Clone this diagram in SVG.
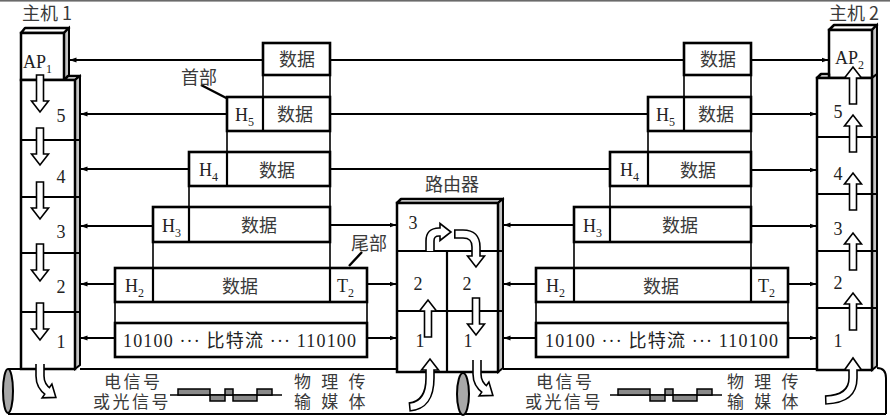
<svg xmlns="http://www.w3.org/2000/svg" width="890" height="416" viewBox="0 0 890 416">
<style>
.bx{fill:#fff;stroke:#000;stroke-width:2.5}
.bev{fill:#fff;stroke:#000;stroke-width:2.5;stroke-linejoin:round}
.side{fill:#c4c4c4;stroke:#000;stroke-width:2}
.pk{fill:#fff;stroke:#000;stroke-width:2.6}
.dv{stroke:#000;stroke-width:2.2}
.ln{stroke:#000;stroke-width:2;fill:none}
.vl{stroke:#000;stroke-width:1.6;fill:none}
.t{font-family:"Liberation Serif","Noto Sans CJK SC",serif;font-size:18px;fill:#222}
.c{font-family:"Noto Sans CJK SC",sans-serif;font-size:18px;fill:#3a3a3a}
.b{font-family:"Liberation Serif","Noto Sans CJK SC",serif;font-size:17px;fill:#3a3a3a;letter-spacing:2.5px}
.b2{font-family:"Liberation Serif","Noto Sans CJK SC",serif;font-size:17px;fill:#3a3a3a;word-spacing:6px}
.m{text-anchor:middle}
.s{font-size:12px}
.ar{fill:#fff;stroke:#000;stroke-width:1.6;stroke-linejoin:miter}
.cb{fill:none;stroke:#000;stroke-width:9.6}
.cw{fill:none;stroke:#fff;stroke-width:6.4}
.wave{fill:#8a8a8a;stroke:#000;stroke-width:1.5}
</style>
<defs>
<marker id="ah" viewBox="0 0 7 6" refX="6.5" refY="3" markerWidth="7" markerHeight="6" markerUnits="userSpaceOnUse" orient="auto"><path d="M0,0.5 L7,3 L0,5.5 z" fill="#000"/></marker>
<marker id="lh" viewBox="0 0 10 8" refX="9" refY="4" markerWidth="10" markerHeight="8" markerUnits="userSpaceOnUse" orient="auto"><path d="M0,0.5 L10,4 L0,7.5 z" fill="#000"/></marker>
<path id="dn" d="M-3.5,0 H3.5 V26 H8.5 L0,37 L-8.5,26 H-3.5 Z"/>
<path id="up" d="M-3.5,0 H3.5 V-26 H8.5 L0,-37 L-8.5,-26 H-3.5 Z"/>
</defs>
<rect x="0" y="0" width="890" height="1.6" fill="#6a6a6a"/>

<!-- cable / physical medium -->
<g id="medium">
<line x1="8" y1="369" x2="21" y2="369" class="ln" stroke-width="2.4"/>
<line x1="80" y1="369" x2="397" y2="369" class="ln" stroke-width="2.4"/>
<line x1="503" y1="369" x2="817" y2="369" class="ln" stroke-width="2.4"/>
<path d="M877,368 Q886,368 886,378 V414" class="ln" stroke-width="2.4"/>
<line x1="8" y1="414" x2="886" y2="414" class="ln" stroke-width="2.4"/>
<ellipse cx="8" cy="391" rx="5" ry="22" fill="#a8a8a8" stroke="#000" stroke-width="2"/>
<ellipse cx="463" cy="394" rx="6" ry="21" fill="#a8a8a8" stroke="#000" stroke-width="2"/>
<g id="wave1">
<line x1="170" y1="395" x2="282" y2="395" stroke="#000" stroke-width="1.5"/>
<rect x="178" y="389" width="32" height="6" class="wave"/>
<rect x="210" y="395" width="15" height="6" class="wave"/>
<rect x="225" y="389" width="8" height="6" class="wave"/>
<rect x="233" y="395" width="24" height="6" class="wave"/>
<rect x="257" y="389" width="15" height="6" class="wave"/>
</g>
<use href="#wave1" x="440"/>
<text x="104" y="388" class="b">电信号</text>
<text x="93" y="408" class="b">或光信号</text>
<text x="294" y="388" class="b2">物 理 传</text>
<text x="294" y="408" class="b2">输 媒 体</text>
<text x="536" y="388" class="b">电信号</text>
<text x="525" y="408" class="b">或光信号</text>
<text x="727" y="388" class="b2">物 理 传</text>
<text x="727" y="408" class="b2">输 媒 体</text>
</g>

<!-- connectors -->
<g id="connectors">
<path d="M263,60 H70" class="ln" marker-end="url(#ah)"/>
<path d="M330,60 H684" class="ln"/>
<path d="M751,60 H828" class="ln" marker-end="url(#ah)"/>
<path d="M227,114 H81" class="ln" marker-end="url(#ah)"/>
<path d="M330,114 H648" class="ln"/>
<path d="M751,114 H816" class="ln" marker-end="url(#ah)"/>
<path d="M189,169 H81" class="ln" marker-end="url(#ah)"/>
<path d="M330,169 H610" class="ln"/>
<path d="M751,170 H816" class="ln" marker-end="url(#ah)"/>
<path d="M153,226 H81" class="ln" marker-end="url(#ah)"/>
<path d="M330,225 H396" class="ln" marker-end="url(#ah)"/>
<path d="M574,225 H504" class="ln" marker-end="url(#ah)"/>
<path d="M751,226 H816" class="ln" marker-end="url(#ah)"/>
<path d="M115,284 H81" class="ln" marker-end="url(#ah)"/>
<path d="M367,284 H396" class="ln" marker-end="url(#ah)"/>
<path d="M537,284 H504" class="ln" marker-end="url(#ah)"/>
<path d="M787,284 H816" class="ln" marker-end="url(#ah)"/>
<path d="M115,338 H81" class="ln" marker-end="url(#ah)"/>
<path d="M367,338 H396" class="ln" marker-end="url(#ah)"/>
<path d="M537,338 H504" class="ln" marker-end="url(#ah)"/>
<path d="M787,338 H816" class="ln" marker-end="url(#ah)"/>
<!-- packet frame links -->
<path d="M263,75 V97 M330,75 V97 M227,131 V152 M330,131 V152 M189,186 V207 M330,186 V207 M153,242 V268 M330,242 V268 M115,302 V323 M367,302 V323" class="vl"/>
<path d="M684,75 V97 M751,75 V97 M648,131 V152 M751,131 V152 M610,186 V207 M751,186 V207 M574,242 V268 M751,242 V268 M536,302 V323 M788,302 V323" class="vl"/>
<!-- leaders -->
<path d="M201,85 L236,103" stroke="#000" stroke-width="2.4" marker-end="url(#lh)"/>
<path d="M362,252 L349,266" stroke="#000" stroke-width="2.4"/>
</g>

<!-- left packets -->
<g id="pkt-ap-l">
<rect x="263" y="43" width="67" height="32" class="pk"/>
<text x="297" y="66" class="c m">数据</text>
</g>
<g id="pkt-5-l">
<rect x="227" y="97" width="103" height="34" class="pk"/>
<line x1="263" y1="97" x2="263" y2="131" class="dv"/>
<text x="235" y="121" class="t">H<tspan class="s" dy="5">5</tspan></text>
<text x="295" y="121" class="c m">数据</text>
</g>
<g id="pkt-4-l">
<rect x="189" y="152" width="141" height="34" class="pk"/>
<line x1="227" y1="152" x2="227" y2="186" class="dv"/>
<text x="199" y="176" class="t">H<tspan class="s" dy="5">4</tspan></text>
<text x="277" y="177" class="c m">数据</text>
</g>
<g id="pkt-3-l">
<rect x="153" y="207" width="177" height="35" class="pk"/>
<line x1="189" y1="207" x2="189" y2="242" class="dv"/>
<text x="162" y="232" class="t">H<tspan class="s" dy="5">3</tspan></text>
<text x="259" y="232" class="c m">数据</text>
</g>
<g id="pkt-2-l">
<rect x="115" y="268" width="252" height="34" class="pk"/>
<line x1="153" y1="268" x2="153" y2="302" class="dv"/>
<line x1="330" y1="268" x2="330" y2="302" class="dv"/>
<text x="125" y="292" class="t">H<tspan class="s" dy="5">2</tspan></text>
<text x="240" y="293" class="c m">数据</text>
<text x="337" y="292" class="t">T<tspan class="s" dy="5">2</tspan></text>
</g>
<g id="pkt-1-l">
<rect x="115" y="323" width="252" height="34" class="pk"/>
<text x="123" y="347" class="t" textLength="233" lengthAdjust="spacing">10100 ··· 比特流 ··· 110100</text>
</g>
<g id="label-head"><text x="199" y="84" class="c m">首部</text></g>
<g id="label-tail"><text x="369" y="250" class="c m">尾部</text></g>

<!-- right packets -->
<g id="pkt-ap-r">
<rect x="684" y="43" width="67" height="32" class="pk"/>
<text x="718" y="66" class="c m">数据</text>
</g>
<g id="pkt-5-r">
<rect x="648" y="97" width="103" height="34" class="pk"/>
<line x1="684" y1="97" x2="684" y2="131" class="dv"/>
<text x="656" y="121" class="t">H<tspan class="s" dy="5">5</tspan></text>
<text x="716" y="121" class="c m">数据</text>
</g>
<g id="pkt-4-r">
<rect x="610" y="152" width="141" height="34" class="pk"/>
<line x1="648" y1="152" x2="648" y2="186" class="dv"/>
<text x="620" y="176" class="t">H<tspan class="s" dy="5">4</tspan></text>
<text x="698" y="177" class="c m">数据</text>
</g>
<g id="pkt-3-r">
<rect x="574" y="207" width="177" height="35" class="pk"/>
<line x1="610" y1="207" x2="610" y2="242" class="dv"/>
<text x="583" y="232" class="t">H<tspan class="s" dy="5">3</tspan></text>
<text x="680" y="232" class="c m">数据</text>
</g>
<g id="pkt-2-r">
<rect x="536" y="268" width="252" height="34" class="pk"/>
<line x1="574" y1="268" x2="574" y2="302" class="dv"/>
<line x1="751" y1="268" x2="751" y2="302" class="dv"/>
<text x="546" y="292" class="t">H<tspan class="s" dy="5">2</tspan></text>
<text x="661" y="293" class="c m">数据</text>
<text x="758" y="292" class="t">T<tspan class="s" dy="5">2</tspan></text>
</g>
<g id="pkt-1-r">
<rect x="536" y="323" width="252" height="34" class="pk"/>
<text x="545" y="347" class="t" textLength="233" lengthAdjust="spacing">10100 ··· 比特流 ··· 110100</text>
</g>

<!-- host 1 -->
<g id="host1">
<text x="22" y="20" class="c" font-size="17">主机 1</text>
<polygon points="21,33 25,28 69,28 64,33" class="bev"/>
<polygon points="64,33 69,28 69,77 64,80" class="side"/>
<rect x="21" y="33" width="43" height="47" class="bx"/>
<text x="23" y="68" class="t">AP<tspan class="s" dy="5">1</tspan></text>
<polygon points="64,80 68,76 80,76 75,80" class="bev"/>
<polygon points="75,80 80,76 80,365 75,369" class="side"/>
<rect x="21" y="80" width="54" height="289" class="bx"/>
<path d="M21,140 H80 M21,197 H80 M21,253 H80 M21,312 H80" class="dv"/>
<text x="61" y="122" class="t m">5</text>
<text x="61" y="183" class="t m">4</text>
<text x="61" y="238" class="t m">3</text>
<text x="61" y="293" class="t m">2</text>
<text x="61" y="348" class="t m">1</text>
<use href="#dn" x="40" y="75" class="ar"/>
<use href="#dn" x="40" y="128" class="ar"/>
<use href="#dn" x="40" y="182" class="ar"/>
<use href="#dn" x="40" y="244" class="ar"/>
<use href="#dn" x="40" y="303" class="ar"/>
<path d="M40,364 V376 Q40,386 48.6,392.2" class="cb"/>
<polygon points="42.1,397.9 51.9,384.1 55.9,397.4" class="ar"/>
<path d="M40,364 V376 Q40,386 48.6,392.2" class="cw"/>
</g>

<!-- router -->
<g id="router">
<text x="452" y="191" class="c m">路由器</text>
<polygon points="397,203 401,199 503,199 498,203" class="bev" stroke-width="3"/>
<polygon points="498,203 503,199 503,368 498,372" class="side"/>
<rect x="397" y="203" width="101" height="169" class="bx"/>
<path d="M397,251 H503 M397,311 H503 M447,251 V372" class="dv"/>
<text x="413" y="229" class="t m">3</text>
<text x="418" y="290" class="t m">2</text>
<text x="467" y="290" class="t m">2</text>
<text x="420" y="347" class="t m">1</text>
<text x="468" y="347" class="t m">1</text>
<use href="#up" x="428" y="337" class="ar"/>
<use href="#dn" x="476" y="298" class="ar"/>
<path d="M430,251 V241 Q430,232 439,232 H442" class="cb"/>
<polygon points="440,223.5 440,240.5 451,232" class="ar"/>
<path d="M430,251 V241 Q430,232 439,232 H442" class="cw"/>
<path d="M454,234 H463 Q476,234 476,247 V258" class="cb"/>
<polygon points="467.5,256 484.5,256 476,267" class="ar"/>
<path d="M455.6,234 H463 Q476,234 476,247 V258" class="cw"/>
<path d="M409,407 Q430,405 430,378 V368" class="cb"/>
<polygon points="421.5,370 438.5,370 430,359" class="ar"/>
<path d="M410.5,406.9 Q430,405 430,378 V368" class="cw"/>
<path d="M477,360 V374 Q477,384 485.6,390.2" class="cb"/>
<polygon points="479.1,395.9 488.9,382.1 492.9,395.4" class="ar"/>
<path d="M477,360 V374 Q477,384 485.6,390.2" class="cw"/>
</g>

<!-- host 2 -->
<g id="host2">
<text x="829" y="20" class="c" font-size="17">主机 2</text>
<polygon points="829,30 834,25 877,25 872,30" class="bev"/>
<polygon points="872,30 877,25 877,74 872,78" class="side"/>
<rect x="829" y="30" width="43" height="48" class="bx"/>
<text x="835" y="64" class="t">AP<tspan class="s" dy="5">2</tspan></text>
<polygon points="817,78 821,74 829,74 829,78" class="bev"/>
<polygon points="872,78 877,74 877,366 872,370" class="side"/>
<rect x="817" y="78" width="55" height="292" class="bx"/>
<path d="M817,137 H877 M817,194 H877 M817,251 H877 M817,308 H877" class="dv"/>
<text x="838" y="118" class="t m">5</text>
<text x="838" y="180" class="t m">4</text>
<text x="838" y="235" class="t m">3</text>
<text x="838" y="289" class="t m">2</text>
<text x="838" y="347" class="t m">1</text>
<use href="#up" x="853" y="104" class="ar"/>
<use href="#up" x="853" y="152" class="ar"/>
<use href="#up" x="853" y="210" class="ar"/>
<use href="#up" x="853" y="270" class="ar"/>
<use href="#up" x="853" y="330" class="ar"/>
<path d="M825,400 Q853,399 853,378 V368" class="cb"/>
<polygon points="844.5,370 861.5,370 853,358" class="ar"/>
<path d="M826.5,400 Q853,399 853,378 V368" class="cw"/>
</g>
</svg>
